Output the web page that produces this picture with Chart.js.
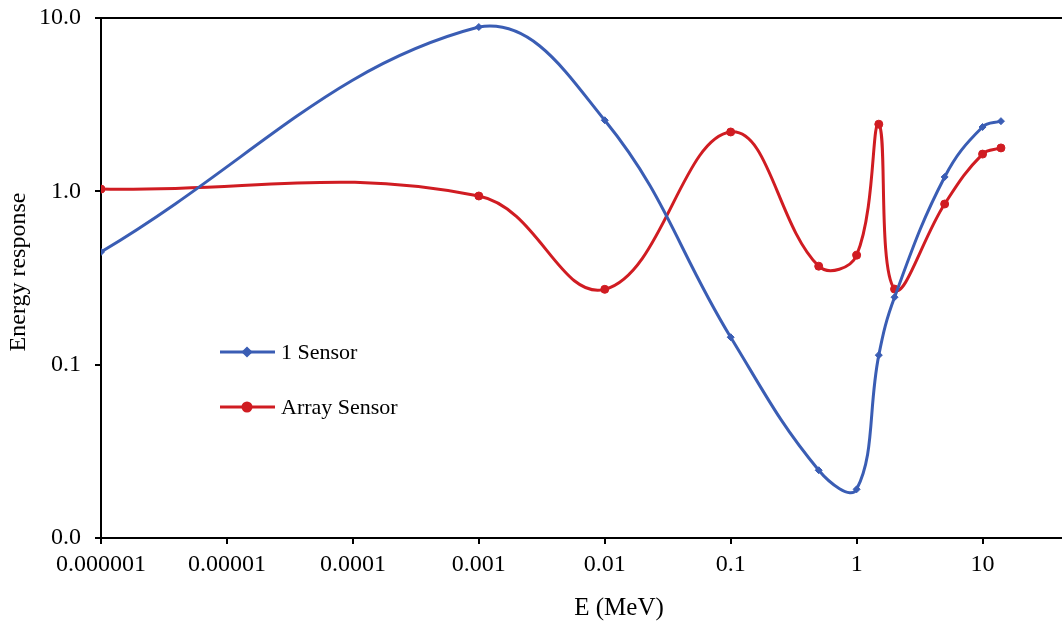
<!DOCTYPE html>
<html>
<head>
<meta charset="utf-8">
<script src="https://cdn.jsdelivr.net/npm/chart.js@4"></script>
<style>
  html, body { margin: 0; padding: 0; background: #fff; }
  #wrap { width: 1062px; height: 625px; position: relative; }
</style>
</head>
<body>
<div id="wrap"><canvas id="chart"></canvas></div>
<script>
// Energia (MeV)
const energies = [0.000001, 0.001, 0.01, 0.1, 0.5, 1, 1.5, 2, 5, 10, 14];
// Odpowiedź energetyczna
const oneSensor = [0.447, 8.87, 2.57, 0.144, 0.0246, 0.0191, 0.1135, 0.245, 1.21, 2.35, 2.54];
const arraySensor = [1.03, 0.94, 0.272, 2.2, 0.37, 0.428, 2.44, 0.273, 0.845, 1.64, 1.78];

const xTicks = [0.000001, 0.00001, 0.0001, 0.001, 0.01, 0.1, 1, 10];
const xTickLabels = ['0.000001', '0.00001', '0.0001', '0.001', '0.01', '0.1', '1', '10'];
const yTicks = [0.01, 0.1, 1, 10];

const BLUE = '#3A5DB4';
const RED = '#D01C22';
const FONT = "'Liberation Serif', 'Times New Roman', serif";

Chart.defaults.font.family = FONT;
Chart.defaults.color = '#000';

const toPoints = ys => energies.map((x, i) => ({ x, y: ys[i] }));

// Tytuły osi, legenda wewnątrz obszaru wykresu, górna ramka
const extras = {
    id: 'extras',
    afterDraw(chart) {
        const { ctx, chartArea } = chart;
        ctx.save();
        ctx.strokeStyle = '#000';
        ctx.lineWidth = 2;
        ctx.beginPath();
        ctx.moveTo(chartArea.left - 6, chartArea.top);
        ctx.lineTo(chart.width, chartArea.top);
        ctx.moveTo(chartArea.right - 1, chartArea.bottom);
        ctx.lineTo(chart.width, chartArea.bottom);
        ctx.stroke();

        ctx.fillStyle = '#000';
        ctx.textAlign = 'center';
        ctx.textBaseline = 'middle';
        ctx.font = '25px ' + FONT;
        ctx.fillText('E (MeV)', 619, 608);
        ctx.save();
        ctx.translate(19, 272);
        ctx.rotate(-Math.PI / 2);
        ctx.font = '24px ' + FONT;
        ctx.fillText('Energy response', 0, 0);
        ctx.restore();

        const items = [
            { label: '1 Sensor', color: BLUE, style: 'rectRot', r: 3.5, y: 352 },
            { label: 'Array Sensor', color: RED, style: 'circle', r: 4, y: 407 }
        ];
        items.forEach(it => {
            ctx.strokeStyle = it.color;
            ctx.lineWidth = 3;
            ctx.beginPath();
            ctx.moveTo(220, it.y);
            ctx.lineTo(275, it.y);
            ctx.stroke();
            ctx.fillStyle = it.color;
            Chart.helpers.drawPoint(ctx, { pointStyle: it.style, radius: it.r, borderWidth: 1 }, 247, it.y);
            ctx.fillStyle = '#000';
            ctx.font = '22px ' + FONT;
            ctx.textBaseline = 'middle';
            ctx.textAlign = 'left';
            ctx.fillText(it.label, 281, it.y + 1);
        });
        ctx.restore();
    }
};

new Chart(document.getElementById('chart'), {
    type: 'line',
    data: {
        datasets: [
            {
                label: '1 Sensor',
                data: toPoints(oneSensor),
                borderColor: BLUE,
                backgroundColor: BLUE,
                borderWidth: 3,
                pointStyle: 'rectRot',
                pointRadius: 3.5,
                pointBorderWidth: 1,
                tension: 0.4
            },
            {
                label: 'Array Sensor',
                data: toPoints(arraySensor),
                borderColor: RED,
                backgroundColor: RED,
                borderWidth: 3,
                pointStyle: 'circle',
                pointRadius: 4,
                pointBorderWidth: 1,
                tension: 0.4
            }
        ]
    },
    options: {
        responsive: true,
        maintainAspectRatio: false,
        animation: false,
        layout: { padding: { top: 18, right: 0, left: 0, bottom: 0 } },
        plugins: { legend: { display: false }, tooltip: { enabled: false } },
        scales: {
            x: {
                type: 'logarithmic',
                min: 0.000001,
                max: 39,
                afterBuildTicks: axis => { axis.ticks = xTicks.map(v => ({ value: v })); },
                afterFit: axis => {
                    axis.height = 87;
                    axis.paddingLeft = 0;
                    axis.paddingRight = 0;
                },
                ticks: {
                    autoSkip: false,
                    maxRotation: 0,
                    padding: 6,
                    font: { size: 24 },
                    callback: (v, i) => xTickLabels[i]
                },
                grid: { drawOnChartArea: false, drawTicks: true, tickLength: 6, color: '#000', lineWidth: 2 },
                border: { color: '#000', width: 2 }
            },
            y: {
                type: 'logarithmic',
                min: 0.01,
                max: 10,
                afterBuildTicks: axis => { axis.ticks = yTicks.map(v => ({ value: v })); },
                afterFit: axis => {
                    axis.width = 101;
                    axis.paddingTop = 0;
                    axis.paddingBottom = 0;
                },
                ticks: {
                    autoSkip: false,
                    padding: 14,
                    font: { size: 24 },
                    callback: v => Number(v).toFixed(1)
                },
                grid: { drawOnChartArea: false, drawTicks: true, tickLength: 6, color: '#000', lineWidth: 2 },
                border: { color: '#000', width: 2 }
            }
        }
    },
    plugins: [extras]
});
</script>
</body>
</html>
